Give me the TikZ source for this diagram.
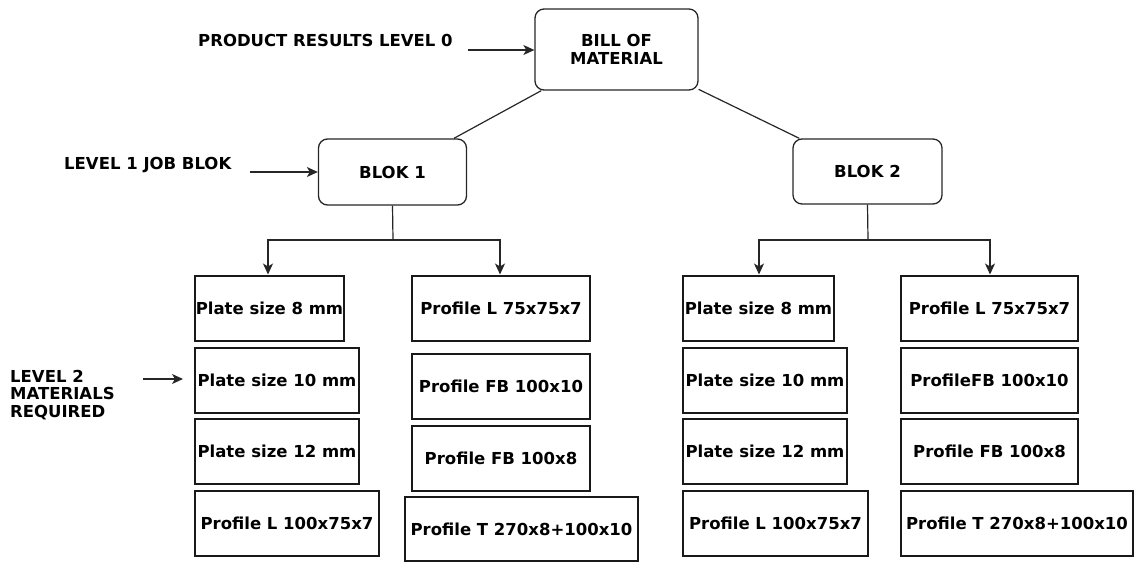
\documentclass[tikz,border=0pt]{standalone}
\usepackage{fontspec}
\setmainfont{DejaVu Sans}
\usetikzlibrary{arrows.meta}
\begin{document}
\begin{tikzpicture}[x=1pt,y=-1pt,
  txt/.style={font=\fontsize{16.5}{17.5}\selectfont\bfseries, inner sep=0pt},
  rbox/.style={txt, draw=black!85, line width=1.3pt, rounded corners=9pt, align=center},
  mbox/.style={txt, draw=black!90, line width=2pt, minimum height=65pt},
  conn/.style={line width=1.2pt, draw=black!85},
  arr/.style={conn, -{Stealth[length=11pt,width=10pt,inset=3pt]}}
]
\useasboundingbox (0,0) rectangle (1134,562);
% level 0
\node[rbox, minimum width=163pt, minimum height=81pt] (bom) at (616.5,49.5) {BILL OF\\MATERIAL};
% level 1
\node[rbox, minimum width=148pt, minimum height=66pt] (blok1) at (392.5,172) {BLOK 1};
\node[rbox, minimum width=149pt, minimum height=65pt] (blok2) at (867.5,171.5) {BLOK 2};
% level 2 column 1
\node[mbox, minimum width=149pt] (a1) at (269.5,308) {Plate size 8 mm};
\node[mbox, minimum width=164pt] (a2) at (277,380) {Plate size 10 mm};
\node[mbox, minimum width=164pt] (a3) at (277,451.5) {Plate size 12 mm};
\node[mbox, minimum width=184pt] (a4) at (287,523.5) {Profile L 100x75x7};
% column 2
\node[mbox, minimum width=178pt] (b1) at (501,308) {Profile L 75x75x7};
\node[mbox, minimum width=178pt] (b2) at (501,386.5) {Profile FB 100x10};
\node[mbox, minimum width=178pt] (b3) at (501,458) {Profile FB 100x8};
\node[mbox, minimum width=233pt, minimum height=64pt] (b4) at (521.5,529) {Profile T 270x8+100x10};
% column 3
\node[mbox, minimum width=151pt] (c1) at (758.5,308) {Plate size 8 mm};
\node[mbox, minimum width=164pt] (c2) at (765,380) {Plate size 10 mm};
\node[mbox, minimum width=164pt] (c3) at (765,451.5) {Plate size 12 mm};
\node[mbox, minimum width=185pt] (c4) at (775.5,523) {Profile L 100x75x7};
% column 4
\node[mbox, minimum width=177pt] (d1) at (989.5,308) {Profile L 75x75x7};
\node[mbox, minimum width=177pt] (d2) at (989.5,380) {ProfileFB 100x10};
\node[mbox, minimum width=177pt] (d3) at (989.5,451.5) {Profile FB 100x8};
\node[mbox, minimum width=232pt] (d4) at (1017,523) {Profile T 270x8+100x10};
% side labels
\node[txt, anchor=west] (l0) at (198,40) {PRODUCT RESULTS LEVEL 0};
\node[txt, anchor=west] (l1) at (64,165) {LEVEL 1 JOB BLOK};
\node[txt, anchor=west, align=left] (l2) at (10,395) {LEVEL 2\\MATERIALS\\REQUIRED};
\coordinate (p0) at (468,50);
\coordinate (p1) at (250,172);
\coordinate (p2s) at (143,379);
\coordinate (p2e) at (183,379);
\draw[arr] (p0) -- (bom.west |- p0);
\draw[arr] (p1) -- (blok1.west |- p1);
\draw[arr] (p2s) -- (p2e);
% tree connectors
\draw[conn] (bom) -- (blok1);
\draw[conn] (bom) -- (blok2);
\coordinate (j1) at (393,240);
\coordinate (j2) at (868,240);
\draw[conn] (blok1.south) -- (j1);
\draw[conn] (blok2.south) -- (j2);
\draw[arr] (j1) -| (a1.north -| 268,0);
\draw[arr] (j1) -| (b1.north -| 500,0);
\draw[arr] (j2) -| (c1.north -| 759,0);
\draw[arr] (j2) -| (d1.north -| 990,0);
\end{tikzpicture}
\end{document}
